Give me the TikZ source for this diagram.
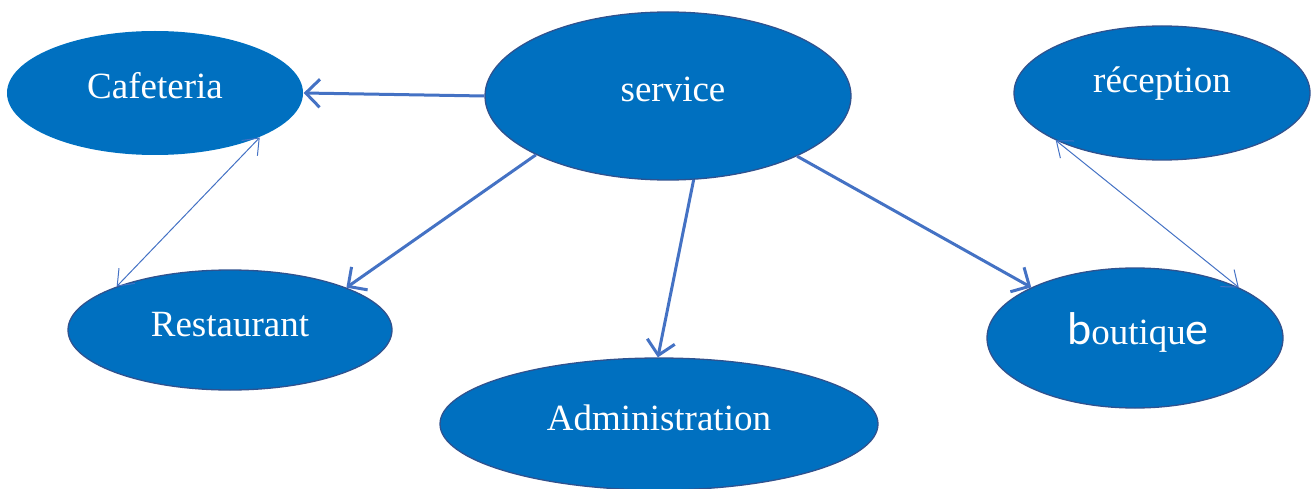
\documentclass[tikz,border=0pt]{standalone}
\usepackage{fontspec}
\setmainfont{Liberation Serif}
\newfontfamily\calib{Carlito}
\usetikzlibrary{shapes.geometric,arrows.meta}
\definecolor{fillblue}{HTML}{0070C0}
\definecolor{edgeblue}{HTML}{2F528F}
\definecolor{linkblue}{HTML}{4472C4}
\tikzset{
  bubble/.style={ellipse, fill=fillblue, draw=edgeblue, line width=1.3pt, inner sep=0pt,
    text=white, font=\fontsize{37}{44}\selectfont, text height=26pt, text depth=14pt},
  bigarrow/.style={draw=linkblue, line width=3pt, -{Straight Barb[length=14pt,width=28pt,line width=3pt]}},
  thinlink/.style={draw=linkblue, line width=1pt, {Straight Barb[length=14pt,width=22pt,line width=1pt]}-{Straight Barb[length=14pt,width=22pt,line width=1pt]}}
}
\begin{document}
\begin{tikzpicture}[x=1pt,y=-1pt]
\useasboundingbox (0,0) rectangle (1313,489);
\clip (0,0) rectangle (1313,489);
\node[bubble, draw=none, minimum width=296pt, minimum height=124pt] (cafe) at (155,93) {Cafeteria};
\node[bubble, minimum width=366pt, minimum height=168pt] (service) at (668,96) {\hspace*{10pt}service};
\node[bubble, minimum width=296pt, minimum height=134pt, text depth=26pt] (recep) at (1162,93) {réception};
\node[bubble, minimum width=324pt, minimum height=120pt] (resto) at (230,330) {Restaurant};
\node[bubble, minimum width=438pt, minimum height=132pt] (admin) at (659,424) {Administration};
\node[bubble, minimum width=296pt, minimum height=140pt] (bout) at (1135,338) {\hspace*{6pt}{\calib\fontsize{46}{50}\selectfont b}outiqu{\calib\fontsize{46}{50}\selectfont e}};
\draw[bigarrow] (service.180) -- (cafe.east);
\draw[bigarrow] (service.204.7) -- (resto.20.2);
\draw[bigarrow] (service.287.8) -- (admin.91);
\draw[bigarrow] (service.335.4) -- (bout.154.1);
\draw[thinlink] (cafe.337.3) -- (resto.159.2);
\draw[thinlink] (recep.204.3) -- (bout.26.3);
\end{tikzpicture}
\end{document}
